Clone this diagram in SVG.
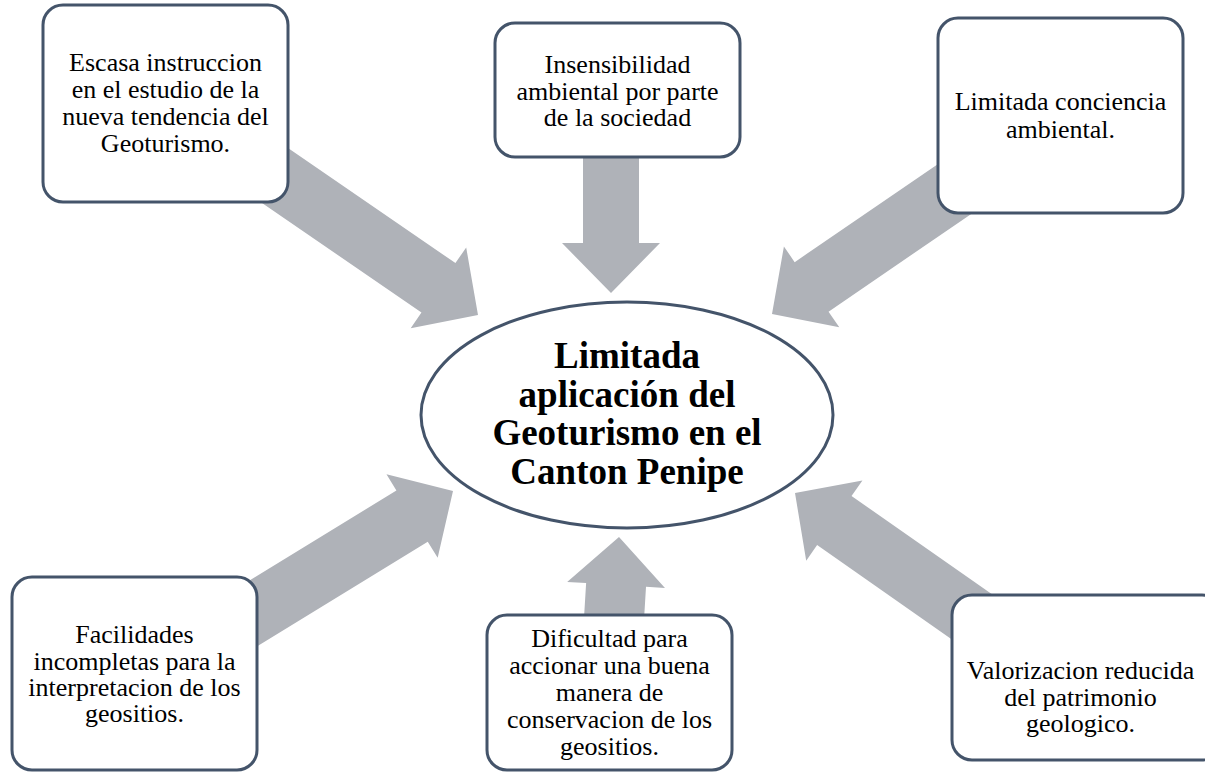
<svg xmlns="http://www.w3.org/2000/svg" width="1205" height="773" viewBox="0 0 1205 773">
<style>
.box{fill:#ffffff;stroke:#44546A;stroke-width:3}
.arr{fill:#AFB2B8}
.t{font-family:"Liberation Serif","Times New Roman",serif;font-size:26px;fill:#000;text-anchor:middle}
.tb{font-family:"Liberation Serif","Times New Roman",serif;font-size:37px;font-weight:bold;fill:#000;text-anchor:middle}
</style>
<rect width="1205" height="773" fill="#ffffff"/>
<g id="connectors">
<polygon class="arr" transform="translate(478,315) rotate(34.5)" points="0,0 -48,-49 -48,-30 -290,-30 -290,30 -48,30 -48,49"/>
<polygon class="arr" transform="translate(611,293) rotate(90)" points="0,0 -50,-49 -50,-28 -145,-28 -145,28 -50,28 -50,49"/>
<polygon class="arr" transform="translate(772,314) rotate(145.6)" points="0,0 -48,-49 -48,-30 -240,-30 -240,30 -48,30 -48,49"/>
<polygon class="arr" transform="translate(453,491) rotate(-31.5)" points="0,0 -48,-49 -48,-30 -260,-30 -260,30 -48,30 -48,49"/>
<polygon class="arr" transform="translate(619,537) rotate(-86.5)" points="0,0 -48,-49 -48,-30 -95,-30 -95,30 -48,30 -48,49"/>
<polygon class="arr" transform="translate(795,493) rotate(-145)" points="0,0 -48,-49 -48,-30 -230,-30 -230,30 -48,30 -48,49"/>
</g>
<g id="center">
<ellipse class="box" cx="627" cy="415" rx="206" ry="113"/>
<text class="tb" x="627"><tspan x="627" y="368">Limitada</tspan><tspan x="627" y="406.5">aplicación del</tspan><tspan x="627" y="445">Geoturismo en el</tspan><tspan x="627" y="483.5">Canton Penipe</tspan></text>
</g>
<g id="n1">
<rect class="box" x="43" y="5" width="245" height="197" rx="20"/>
<text class="t"><tspan x="165.5" y="71">Escasa instruccion</tspan><tspan x="165.5" y="98">en el estudio de la</tspan><tspan x="165.5" y="125">nueva tendencia del</tspan><tspan x="165.5" y="152">Geoturismo.</tspan></text>
</g>
<g id="n2">
<rect class="box" x="495" y="23" width="245" height="134" rx="20"/>
<text class="t"><tspan x="617.5" y="73">Insensibilidad</tspan><tspan x="617.5" y="100">ambiental por parte</tspan><tspan x="617.5" y="126">de la sociedad</tspan></text>
</g>
<g id="n3">
<rect class="box" x="938" y="18" width="245" height="195" rx="20"/>
<text class="t"><tspan x="1060.5" y="110">Limitada conciencia</tspan><tspan x="1060.5" y="138">ambiental.</tspan></text>
</g>
<g id="n4">
<rect class="box" x="12" y="577" width="245" height="193" rx="20"/>
<text class="t"><tspan x="134.5" y="643">Facilidades</tspan><tspan x="134.5" y="670">incompletas para la</tspan><tspan x="134.5" y="696">interpretacion de los</tspan><tspan x="134.5" y="722">geositios.</tspan></text>
</g>
<g id="n5">
<rect class="box" x="487" y="615" width="245" height="155" rx="20"/>
<text class="t"><tspan x="609.5" y="647">Dificultad para</tspan><tspan x="609.5" y="674">accionar una buena</tspan><tspan x="609.5" y="701">manera de</tspan><tspan x="609.5" y="728">conservacion de los</tspan><tspan x="609.5" y="755">geositios.</tspan></text>
</g>
<g id="n6">
<rect class="box" x="952" y="595" width="270" height="165" rx="20"/>
<text class="t"><tspan x="1080.5" y="679">Valorizacion reducida</tspan><tspan x="1080.5" y="706">del patrimonio</tspan><tspan x="1080.5" y="732">geologico.</tspan></text>
</g>
</svg>
